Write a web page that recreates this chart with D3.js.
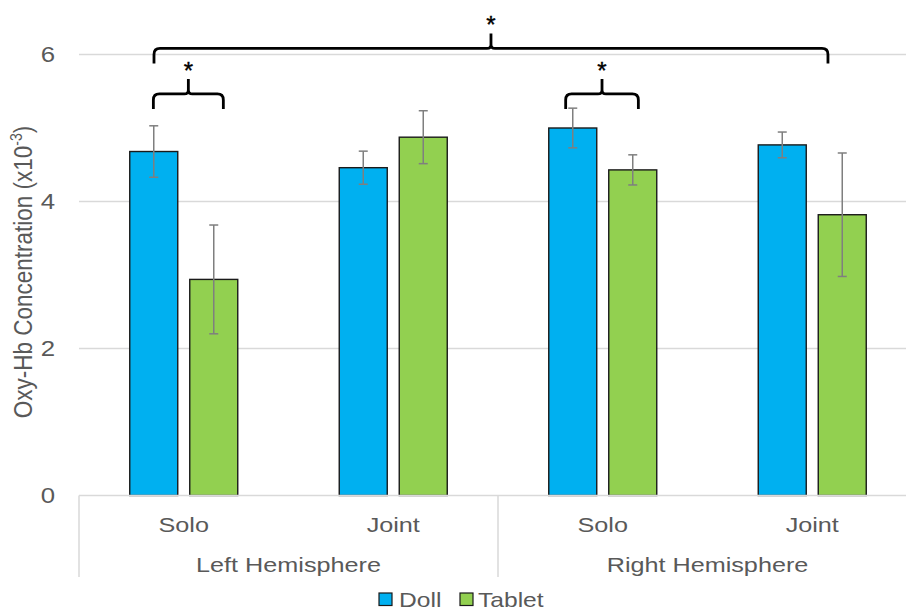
<!DOCTYPE html>
<html>
<head>
<meta charset="utf-8">
<script src="https://cdn.jsdelivr.net/npm/d3@7"></script>
<style>
  html, body { margin: 0; padding: 0; background: #ffffff; }
  svg { display: block; }
  text { font-family: "Liberation Sans", Arial, sans-serif; }
</style>
</head>
<body>
<svg id="chart" width="906" height="612"></svg>
<script>
// Oxy-Hb concentration (x10^-3) by condition, hemisphere and stimulus
const conditions = ["Solo", "Joint", "Solo", "Joint"];
const hemispheres = ["Left Hemisphere", "Right Hemisphere"];
const conditionHemisphere = [0, 0, 1, 1];
const series = ["Doll", "Tablet"];
const dollValues = [4.68, 4.46, 5.00, 4.77];
const tabletValues = [2.94, 4.875, 4.43, 3.82];
const dollErrors = [0.35, 0.225, 0.27, 0.175];
const tabletErrors = [0.74, 0.36, 0.205, 0.84];
const yTicks = [0, 2, 4, 6];
const yTitle = "Oxy-Hb Concentration (x10";
const yTitleExp = "-3";
// significance brackets: ends in category units, horizontal line in value units
const bracketFrom = [0.355, 2.323, 0.358];
const bracketTo = [0.689, 2.670, 3.575];
const bracketLevel = [5.463, 5.463, 6.082];
const bracketLabel = ["*", "*", "*"];

const colors = { Doll: "#00B0F0", Tablet: "#92D050" };
const textColor = "#595959";
const stretch = 1.2; // horizontal text width factor

const svg = d3.select("#chart");
const plot = { left: 79, right: 917, top: 54.5, bottom: 495.5 };

const x0 = d3.scaleBand().domain(d3.range(conditions.length))
  .range([plot.left, plot.right]).paddingInner(0).paddingOuter(0);
const bw = x0.bandwidth();
const x1 = d3.scaleBand().domain(series).range([0, bw])
  .paddingInner(0.2).paddingOuter((bw / 60 - 1.8) / 2);
const xCat = d3.scaleLinear().domain([0, conditions.length]).range([plot.left, plot.right]);
const y = d3.scaleLinear().domain([0, 6]).range([plot.bottom, plot.top]);

const rows = conditions.map((c, i) => ({
  i,
  values: [
    { s: "Doll", v: dollValues[i], e: dollErrors[i] },
    { s: "Tablet", v: tabletValues[i], e: tabletErrors[i] }
  ]
}));

// gridlines
svg.append("g").selectAll("line").data(yTicks.filter(d => d > 0)).join("line")
  .attr("x1", plot.left).attr("x2", plot.right)
  .attr("y1", d => y(d)).attr("y2", d => y(d))
  .attr("stroke", "#d9d9d9").attr("stroke-width", 1.3);

// y tick labels
svg.append("g").selectAll("text").data(yTicks).join("text")
  .attr("transform", d => `translate(55,${y(d) + 7.8}) scale(${stretch},1)`)
  .attr("text-anchor", "end")
  .attr("font-size", 21.5).attr("fill", textColor)
  .text(d => d);

// y title
const yt = svg.append("text")
  .attr("transform", `translate(31.5,${(plot.top + plot.bottom) / 2 - 3}) scale(1.15,1) rotate(-90)`)
  .attr("text-anchor", "middle")
  .attr("font-size", 22.5).attr("fill", textColor);
yt.append("tspan").text(yTitle);
yt.append("tspan").attr("font-size", 14).attr("dy", -8).text(yTitleExp);
yt.append("tspan").attr("dy", 8).text(")");

// bars
const groupsG = svg.append("g").selectAll("g").data(rows).join("g")
  .attr("transform", d => `translate(${x0(d.i)},0)`);

groupsG.selectAll("rect").data(d => d.values).join("rect")
  .attr("x", d => x1(d.s))
  .attr("width", x1.bandwidth())
  .attr("y", d => y(d.v))
  .attr("height", d => y(0) - y(d.v))
  .attr("fill", d => colors[d.s])
  .attr("stroke", "#1a1a1a").attr("stroke-width", 1.4);

// error bars
const eb = groupsG.selectAll("g.err").data(d => d.values).join("g").attr("class", "err")
  .attr("stroke", "#7f7f7f").attr("stroke-width", 1.5);
const cx = d => x1(d.s) + x1.bandwidth() / 2;
eb.append("line").attr("x1", cx).attr("x2", cx)
  .attr("y1", d => y(d.v + d.e)).attr("y2", d => y(d.v - d.e));
eb.append("line").attr("x1", d => cx(d) - 4.5).attr("x2", d => cx(d) + 4.5)
  .attr("y1", d => y(d.v + d.e)).attr("y2", d => y(d.v + d.e));
eb.append("line").attr("x1", d => cx(d) - 4.5).attr("x2", d => cx(d) + 4.5)
  .attr("y1", d => y(d.v - d.e)).attr("y2", d => y(d.v - d.e));

// category axis line
svg.append("line")
  .attr("x1", plot.left).attr("x2", plot.right)
  .attr("y1", plot.bottom).attr("y2", plot.bottom)
  .attr("stroke", "#d9d9d9").attr("stroke-width", 1.5);

// hemisphere separators
const hemiBounds = [];
hemispheres.forEach((h, k) => {
  const idx = d3.range(conditions.length).filter(i => conditionHemisphere[i] === k);
  hemiBounds.push({ name: h, x0: x0(idx[0]), x1: x0(idx[idx.length - 1]) + bw });
});
const sepXs = [hemiBounds[0].x0].concat(hemiBounds.map(b => b.x1));
svg.append("g").selectAll("line").data(sepXs).join("line")
  .attr("x1", d => d).attr("x2", d => d)
  .attr("y1", plot.bottom).attr("y2", 577)
  .attr("stroke", "#d9d9d9").attr("stroke-width", 1.5);

// condition labels
svg.append("g").selectAll("text").data(conditions).join("text")
  .attr("transform", (d, i) => `translate(${x0(i) + bw / 2},531.5) scale(${stretch},1)`)
  .attr("text-anchor", "middle").attr("font-size", 21).attr("fill", textColor)
  .text(d => d);

// hemisphere labels
svg.append("g").selectAll("text").data(hemiBounds).join("text")
  .attr("transform", d => `translate(${(d.x0 + d.x1) / 2},571.5) scale(${stretch},1)`)
  .attr("text-anchor", "middle").attr("font-size", 21).attr("fill", textColor)
  .text(d => d.name);

// significance brackets
function bracePath(a, b, yl) {
  const m = (a + b) / 2, d = 15, r = 6, r2 = 4, p = 15;
  return `M${a},${yl + d} L${a},${yl + r} Q${a},${yl} ${a + r},${yl}` +
    ` L${m - r2},${yl} Q${m},${yl} ${m},${yl - r2} L${m},${yl - p}` +
    ` M${m},${yl - r2} Q${m},${yl} ${m + r2},${yl}` +
    ` L${b - r},${yl} Q${b},${yl} ${b},${yl + r} L${b},${yl + d}`;
}
const br = svg.append("g").selectAll("g").data(bracketFrom.map((f, i) => i)).join("g");
br.append("path")
  .attr("d", i => bracePath(xCat(bracketFrom[i]), xCat(bracketTo[i]), y(bracketLevel[i])))
  .attr("fill", "none").attr("stroke", "#000").attr("stroke-width", 2.8)
  .attr("stroke-linejoin", "round");
br.append("text")
  .attr("x", i => (xCat(bracketFrom[i]) + xCat(bracketTo[i])) / 2)
  .attr("y", i => y(bracketLevel[i]) - 29 + 14)
  .attr("text-anchor", "middle").attr("font-size", 24).attr("fill", "#000")
  .attr("stroke", "#000").attr("stroke-width", 0.4)
  .text(i => bracketLabel[i]);

// legend
const legendX = [379, 460];
const lg = svg.append("g").selectAll("g").data(series).join("g")
  .attr("transform", (d, i) => `translate(${legendX[i]},593)`);
lg.append("rect").attr("width", 13).attr("height", 12.5)
  .attr("fill", d => colors[d]).attr("stroke", "#1a1a1a").attr("stroke-width", 1.2);
lg.append("text")
  .attr("transform", (d, i) => `translate(${i === 0 ? 20 : 18},13.5) scale(${stretch},1)`)
  .attr("font-size", 20.5).attr("fill", textColor)
  .text(d => d);
</script>
</body>
</html>
